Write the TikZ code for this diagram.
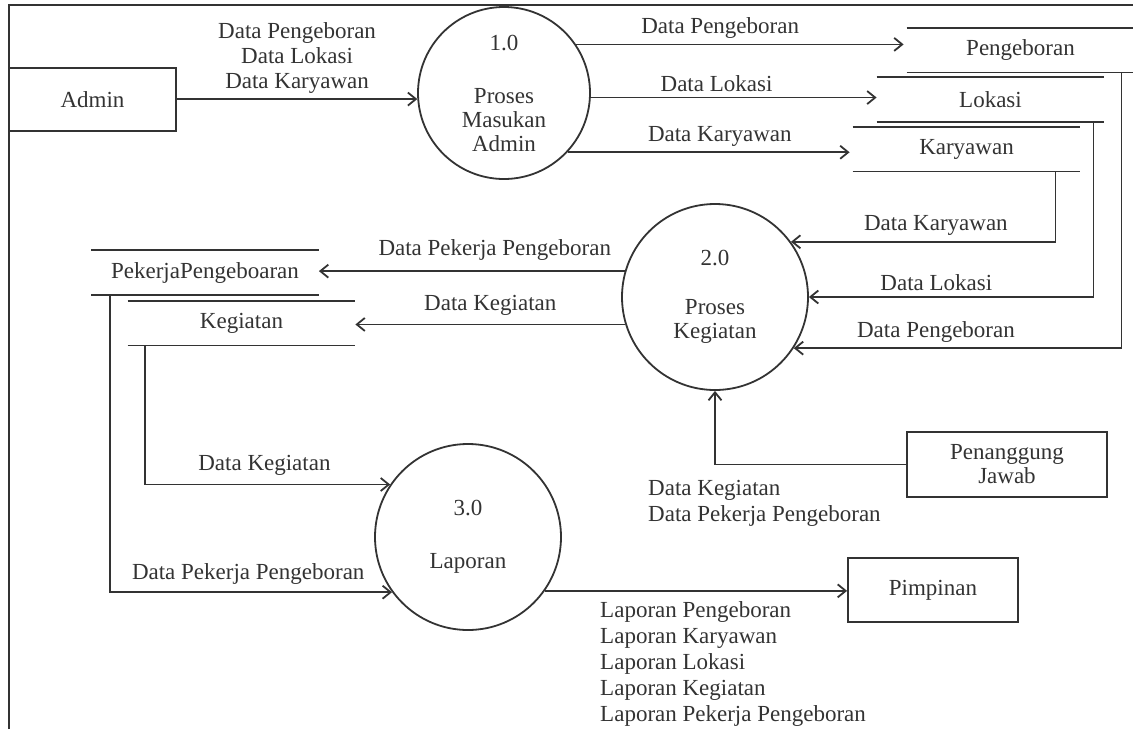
\documentclass[tikz,border=0pt]{standalone}
\usepackage{fontspec}
\setmainfont{Liberation Serif}
\usetikzlibrary{arrows.meta}
\definecolor{ink}{HTML}{333333}
\begin{document}
\begin{tikzpicture}[x=1pt,y=-1pt,
    font=\fontsize{23}{25}\selectfont, color=ink, line width=1.8pt,
    >={Straight Barb[length=8pt,width=13pt]},
    proc/.style={draw,circle,minimum size=#1,inner sep=0pt,align=center},
    ent/.style={draw,rectangle,inner sep=0pt,align=center},
    store/.style={minimum width=226pt,minimum height=43pt,inner sep=0pt},
    flow/.style={->},
    lbl/.style={above,inner sep=5pt}]
  \useasboundingbox (0,0) rectangle (1133,729);
  \draw (9,729) -- (9,5) -- (1133,5);
  \draw
    (92.5,99.5) node[ent,minimum width=167pt,minimum height=63pt] (admin){Admin}
    (1007,464.5) node[ent,minimum width=200pt,minimum height=65pt] (pj){Penanggung\\[-1pt]Jawab}
    (933,590) node[ent,minimum width=170pt,minimum height=64pt] (pimpinan){Pimpinan}
    (504,93) node[proc=172pt] (p1){1.0\\[28pt]Proses\\[-1pt]Masukan\\[-1pt]Admin}
    (715,297) node[proc=186pt] (p2){2.0\\[24pt]Proses\\[-1pt]Kegiatan}
    (468,537) node[proc=186pt] (p3){3.0\\[28pt]Laporan}
    (1020.5,50) node[store] (bor){Pengeboran}
    (990.5,99.5) node[store] (lok){Lokasi}
    (966.5,149) node[store] (kar){Karyawan}
    (205,272.5) node[store] (pek){PekerjaPengeboaran}
    (241.5,323) node[store] (keg){Kegiatan};
  \foreach \s in {bor,lok,kar,pek,keg}
    \draw (\s.north west) -- (\s.north east) (\s.south west) -- (\s.south east);
  \begin{scope}[flow]
    \draw (admin.east |- p1.184) -- (p1.184)
      node[lbl,align=center,pos=0.5]{Data Pengeboran\\Data Lokasi\\Data Karyawan};
    \draw (p1.34) -- ([xshift=-3pt]bor.west |- p1.34) node[lbl,pos=0.44]{Data Pengeboran};
    \draw (p1.-3) -- (lok.west |- p1.-3) node[lbl,pos=0.44]{Data Lokasi};
    \draw (p1.-43) -- ([xshift=-3pt]kar.west |- p1.-43) node[lbl,pos=0.54]{Data Karyawan};
    \draw ([xshift=-25pt]kar.south east) |- (p2.36) node[lbl,pos=0.726]{Data Karyawan};
    \draw ([xshift=-11pt]lok.south east) |- (p2.0) node[lbl,pos=0.776]{Data Lokasi};
    \draw ([xshift=-13pt]bor.south east) |- (p2.-33) node[lbl,pos=0.783]{Data Pengeboran};
    \draw (p2.164) -- (pek.east |- p2.164) node[lbl,inner sep=10pt,pos=0.425]{Data Pekerja Pengeboran};
    \draw (p2.197) -- (keg.east |- p2.197) node[lbl,inner sep=8pt,pos=0.5]{Data Kegiatan};
    \draw ([xshift=19pt]pek.south west) |- (p3.216) node[lbl,inner sep=7pt,pos=0.745]{Data Pekerja Pengeboran};
    \draw ([xshift=17pt]keg.south west) |- (p3.146) node[lbl,inner sep=8pt,pos=0.744]{Data Kegiatan};
    \draw (pj.west) -| (p2.south);
    \draw (p3.-35) -- (pimpinan.west |- p3.-35);
  \end{scope}
  \node[anchor=west,align=left] (pjdata) at (644,503) {Data Kegiatan\\[1pt]Data Pekerja Pengeboran};
  \node[anchor=north west,align=left] (lapdata) at (596,597)
    {Laporan Pengeboran\\[1pt]Laporan Karyawan\\[1pt]Laporan Lokasi\\[1pt]Laporan Kegiatan\\[1pt]Laporan Pekerja Pengeboran};
\end{tikzpicture}
\end{document}
